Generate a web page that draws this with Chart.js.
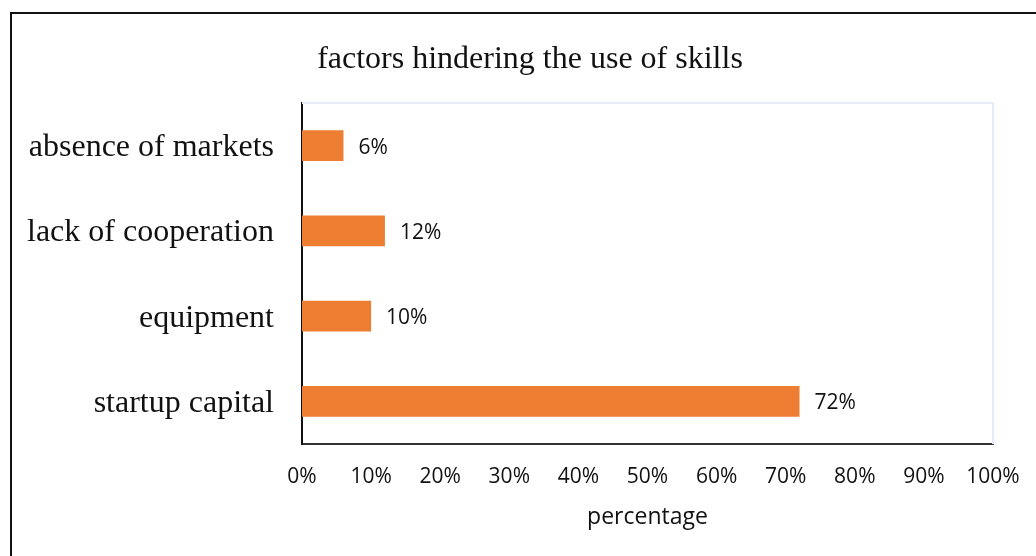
<!DOCTYPE html>
<html>
<head>
<meta charset="utf-8">
<script src="https://cdn.jsdelivr.net/npm/chart.js@4"></script>
<style>
  html, body { margin: 0; padding: 0; background: #fff; overflow: hidden; }
  #wrap { position: relative; width: 1036px; height: 556px; }
  #frame {
    position: absolute; left: 10px; top: 12px; width: 1100px; height: 600px;
    border: 2px solid #111; box-sizing: border-box;
  }
  canvas { position: absolute; left: 0; top: 0; }
</style>
</head>
<body>
<div id="wrap">
  <div id="frame"></div>
  <canvas id="chart" width="1036" height="556"></canvas>
</div>
<script>
// Chart data
const chartTitle = 'factors hindering the use of skills';
const categories = ['absence of markets', 'lack of cooperation', 'equipment', 'startup capital'];
const percentValues = [6, 12, 10, 72];
const xTicks = [0, 10, 20, 30, 40, 50, 60, 70, 80, 90, 100];
const xAxisTitle = 'percentage';

const barColor = '#ED7D31';
const serif = '"Liberation Serif", "Times New Roman", serif';
const sans = '"Open Sans", "Liberation Sans", sans-serif';

// Draw value labels, light plot frame and the title
const extras = {
  id: 'extras',
  beforeDatasetsDraw(chart) {
    const { ctx, chartArea: a } = chart;
    ctx.save();
    ctx.strokeStyle = '#E3ECF7';
    ctx.lineWidth = 2;
    ctx.beginPath();
    ctx.moveTo(a.left, a.top);
    ctx.lineTo(a.right, a.top);
    ctx.lineTo(a.right, a.bottom);
    ctx.stroke();
    ctx.restore();
  },
  afterDatasetsDraw(chart) {
    const { ctx } = chart;
    const meta = chart.getDatasetMeta(0);
    ctx.save();
    ctx.font = '21px ' + sans;
    ctx.fillStyle = '#111';
    ctx.textBaseline = 'middle';
    ctx.textAlign = 'left';
    meta.data.forEach((bar, i) => {
      ctx.fillText(percentValues[i] + '%', bar.x + 15, bar.y + 2);
    });
    ctx.font = '32px ' + serif;
    ctx.textAlign = 'center';
    ctx.textBaseline = 'alphabetic';
    ctx.fillText(chartTitle, 530, 68);
    ctx.restore();
  }
};

new Chart(document.getElementById('chart'), {
  type: 'bar',
  data: {
    labels: categories,
    datasets: [{
      data: percentValues,
      backgroundColor: barColor,
      borderWidth: 0,
      barPercentage: 0.9,
      categoryPercentage: 0.4
    }]
  },
  options: {
    indexAxis: 'y',
    responsive: false,
    animation: false,
    layout: { padding: { left: 0, right: 43, top: 103, bottom: 0 } },
    plugins: {
      legend: { display: false },
      title: { display: false },
      tooltip: { enabled: false }
    },
    scales: {
      x: {
        min: 0,
        max: 100,
        afterBuildTicks(scale) {
          scale.ticks = xTicks.map(v => ({ value: v }));
        },
        afterFit(scale) {
          scale.height = 112;
          scale.paddingLeft = 0;
          scale.paddingRight = 0;
        },
        grid: { display: false, drawTicks: false },
        border: { display: true, color: '#333', width: 2 },
        ticks: {
          padding: 20,
          color: '#111',
          font: { family: sans, size: 21 },
          callback: v => v + '%'
        },
        title: {
          display: true,
          text: xAxisTitle,
          color: '#111',
          font: { family: sans, size: 23 },
          padding: { top: 0, bottom: 25 }
        }
      },
      y: {
        afterFit(scale) { scale.width = 302; },
        grid: { display: false, drawTicks: false },
        border: { display: true, color: '#111', width: 2 },
        ticks: {
          padding: 28,
          labelOffset: 2,
          color: '#111',
          font: { family: serif, size: 32 }
        }
      }
    }
  },
  plugins: [extras]
});
</script>
</body>
</html>
